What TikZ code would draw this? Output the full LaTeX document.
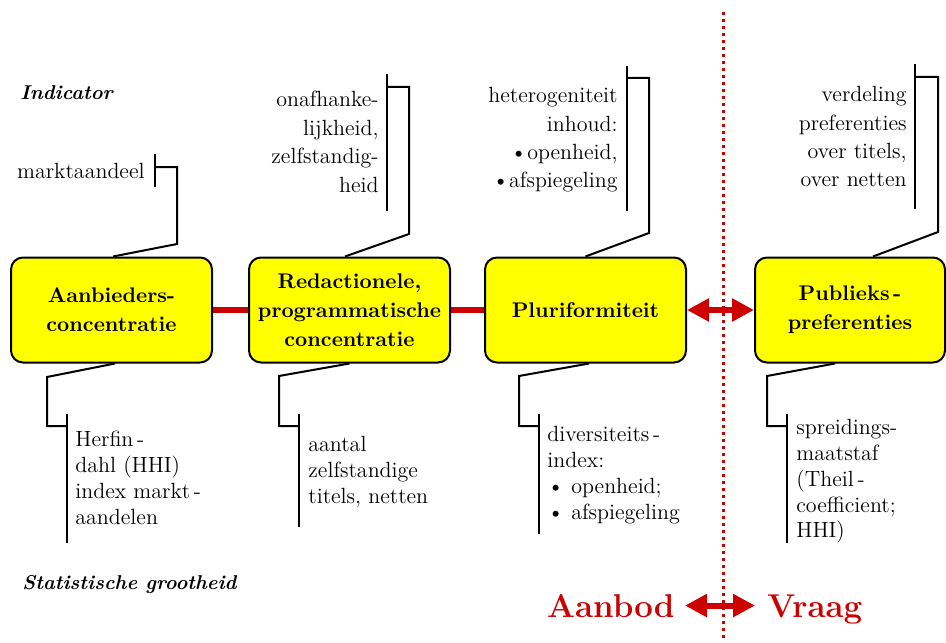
\documentclass[tikz,border=0pt]{standalone}
\usetikzlibrary{arrows.meta}
\definecolor{dkred}{RGB}{204,0,0}
\definecolor{boxyellow}{RGB}{255,255,0}
\tikzset{
  stage/.style={draw=black, line width=1pt, fill=boxyellow, rounded corners=6pt,
    minimum width=100.5pt, minimum height=52.5pt, align=center, inner sep=0pt,
    font=\fontsize{10.6}{14.5}\selectfont\bfseries},
  uptext/.style={anchor=north east, align=right, inner sep=0pt,
    font=\fontsize{11}{14.2}\selectfont},
  downtext/.style={anchor=north west, align=left, inner sep=0pt,
    font=\fontsize{11}{12.9}\selectfont},
  heading/.style={anchor=base west, inner sep=0pt,
    font=\fontsize{10}{12}\selectfont\bfseries\itshape},
  lead/.style={line width=1pt},
  link/.style={dkred, line width=3pt},
  twoway/.style={dkred, line width=3pt,
    {Triangle[length=11pt,width=11pt]}-{Triangle[length=11pt,width=11pt]}},
  side/.style={dkred, inner sep=0pt, font=\fontsize{16.5}{20}\selectfont\bfseries}
}

\begin{document}
\begin{tikzpicture}[x=0.5pt, y=-0.5pt]
	\useasboundingbox (0,0) rectangle (946,642);
	% boundary between supply and demand
	\draw[dkred, line width=1.5pt, dash pattern=on 1.5pt off 2pt] (723,12) -- (723,642);

	\node[stage] (aanb) at (111.5,310) {Aanbieders-\\concentratie};
	\node[stage] (redac) at (349.5,310) {Redactionele,\\programmatische\\concentratie};
	\node[stage] (pluri) at (585.5,310) {Pluriformiteit};
	\node[stage, minimum width=95pt] (publ) at (850,310) {Publieks\,-\\preferenties};

	\draw[link] (aanb) -- (redac);
	\draw[link] (redac) -- (pluri);
	\draw[twoway] (pluri) -- (publ);

	% indicators
	\node[heading] (ind) at (20,99) {Indicator};
	\node[anchor=base east, inner sep=0pt, font=\fontsize{11}{14}\selectfont] (ind1) at (145,178) {marktaandeel};
	\node[uptext] (ind2) at (379,91) {onafhanke-\\lijkheid,\\zelfstandig-\\heid};
	\node[uptext] (ind3) at (618,87) {heterogeniteit\\inhoud:\\\textbullet openheid,\\\textbullet afspiegeling};
	\node[uptext] (ind4) at (907,86) {verdeling\\preferenties\\over titels,\\over netten};

	\draw[lead] (155,154) -- (155,187);
	\draw[lead] (155,167) -- (177,167) -- (177,244) -- ([xshift=0.75pt]aanb.north);
	\draw[lead] (387,74) -- (387,211);
	\draw[lead] (387,87) -- (409,87) -- (409,234) -- ([xshift=-2.25pt]redac.north);
	\draw[lead] (627,66) -- (627,211);
	\draw[lead] (627,78) -- (649,78) -- (649,233) -- (pluri.north);
	\draw[lead] (915,64) -- (915,209);
	\draw[lead] (915,77) -- (938,77) -- (938,232) -- ([xshift=11.5pt]publ.north);

	% statistics
	\node[heading] (stat) at (22,589) {Statistische grootheid};
	\node[downtext] (stat1) at (75,431) {Herfin\,-\\dahl (HHI)\\index markt\,-\\aandelen};
	\node[downtext] (stat2) at (308,436) {aantal\\zelfstandige\\titels, netten};
	\node[downtext] (stat3) at (547,426) {diversiteits\,-\\index:\\\textbullet\ openheid;\\\textbullet\ afspiegeling};
	\node[downtext] (stat4) at (796,419) {spreidings-\\maatstaf\\(Theil\,-\\coefficient;\\HHI)};

	\draw[lead] ([xshift=1.75pt]aanb.south) -- (47,377) -- (47,426) -- (67,426);
	\draw[lead] (67,414) -- (67,543);
	\draw[lead] (redac.south) -- (279,376) -- (279,426) -- (299,426);
	\draw[lead] (299,414) -- (299,527);
	\draw[lead] ([xshift=1.75pt]pluri.south) -- (519,376) -- (519,426) -- (539,426);
	\draw[lead] (539,414) -- (539,534);
	\draw[lead] ([xshift=-7.5pt]publ.south) -- (767,376) -- (767,426) -- (787,426);
	\draw[lead] (787,414) -- (787,543);

	% supply / demand
	\node[side, anchor=base east] (aanbod) at (675,617) {Aanbod};
	\node[side, anchor=base west] (vraag) at (767,617) {Vraag};
	\draw[twoway] ([xshift=5pt]aanbod.east) -- ([xshift=-6pt]vraag.west |- aanbod.east);
\end{tikzpicture}
\end{document}
